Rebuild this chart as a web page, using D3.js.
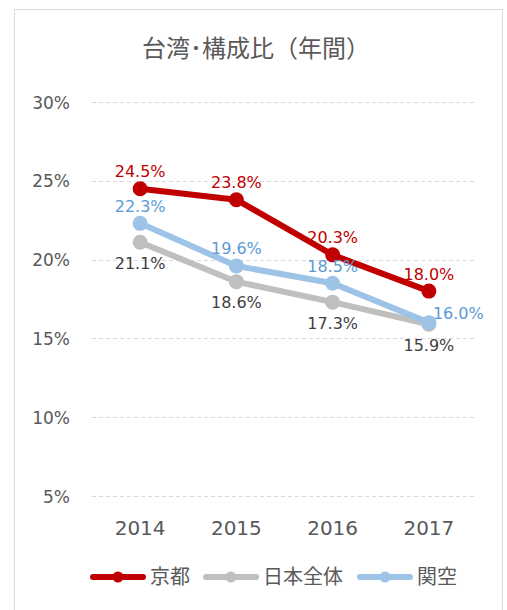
<!DOCTYPE html>
<html>
<head>
<meta charset="utf-8">
<script src="https://cdn.jsdelivr.net/npm/d3@7"></script>
<style>
  html, body { margin: 0; padding: 0; background: #fff; }
  svg { display: block; font-family: "DejaVu Sans", "Noto Sans CJK JP", sans-serif; }
</style>
</head>
<body>
<div id="chart"></div>
<script>
// data
const years = ["2014", "2015", "2016", "2017"];
const kyoto = [24.5, 23.8, 20.3, 18.0];
const japanAll = [21.1, 18.6, 17.3, 15.9];
const kanku = [22.3, 19.6, 18.5, 16.0];
const yTicks = [5, 10, 15, 20, 25, 30];
const seriesNames = ["京都", "日本全体", "関空"];
const title = "台湾･構成比（年間）";

const W = 507, H = 610;
const margin = { top: 102, right: 30, bottom: 114, left: 92 };
const w = W - margin.left - margin.right, h = H - margin.top - margin.bottom;

// style per series; label placement is about drawing, not data
const styles = [
  { values: kyoto, line: "#c00000", text: "#c00000", place: ["above", "above", "above", "above"] },
  { values: japanAll, line: "#bfbfbf", text: "#404040", place: ["below", "below", "below", "below"] },
  { values: kanku, line: "#9dc3e6", text: "#5b9bd5", place: ["above", "above", "above", "right"] }
];
const drawOrder = [1, 2, 0];

const svg = d3.select("#chart").append("svg")
  .attr("width", W).attr("height", H)
  .attr("viewBox", `0 0 ${W} ${H}`);

svg.append("rect")
  .attr("x", 14.5).attr("y", 9.5).attr("width", 488).attr("height", 620)
  .attr("fill", "#fff").attr("stroke", "#d9d9d9");

svg.append("text")
  .attr("x", 256).attr("y", 49)
  .attr("text-anchor", "middle").attr("dominant-baseline", "central")
  .attr("fill", "#595959").attr("font-size", 24)
  .text(title);

const g = svg.append("g").attr("transform", `translate(${margin.left},${margin.top})`);

const x = d3.scaleBand().domain(years).range([0, w]);
const y = d3.scaleLinear().domain([5, 30]).range([h, 0]);

// gridlines
g.selectAll("line.grid").data(yTicks).join("line").attr("class", "grid")
  .attr("x1", 0).attr("x2", w)
  .attr("y1", d => Math.round(y(d)) + 0.5).attr("y2", d => Math.round(y(d)) + 0.5)
  .attr("stroke", "#d9d9d9").attr("stroke-dasharray", "4,3");

// y axis labels
g.append("g")
  .attr("transform", "translate(-19,0)")
  .call(d3.axisLeft(y).tickValues(yTicks).tickSize(0).tickFormat(d => d + "%"))
  .call(s => s.attr("font-family", null).attr("font-size", null))
  .call(s => s.select(".domain").remove())
  .selectAll("text")
  .attr("font-size", 17).attr("fill", "#595959")
  .attr("dy", "0.36em");

// x axis labels
g.append("g")
  .attr("transform", `translate(0,${h + 24})`)
  .call(d3.axisBottom(x).tickSize(0))
  .call(s => s.attr("font-family", null).attr("font-size", null))
  .call(s => s.select(".domain").remove())
  .selectAll("text")
  .attr("font-size", 20).attr("fill", "#595959")
  .attr("dy", "0.6em");

const cx = d => x(d) + x.bandwidth() / 2;
const line = d3.line().x((d, i) => cx(years[i])).y(d => y(d));

drawOrder.forEach(k => {
  const s = styles[k];
  g.append("path").datum(s.values)
    .attr("d", line).attr("fill", "none")
    .attr("stroke", s.line).attr("stroke-width", 6)
    .attr("stroke-linejoin", "round").attr("stroke-linecap", "round");
  g.selectAll(null).data(s.values).join("circle")
    .attr("cx", (d, i) => cx(years[i])).attr("cy", d => y(d))
    .attr("r", 7.5).attr("fill", s.line);
});

styles.forEach(s => {
  g.selectAll(null).data(s.values).join("text")
    .attr("x", (d, i) => cx(years[i]) + (s.place[i] === "right" ? 4 : 0))
    .attr("y", (d, i) => y(d) + (s.place[i] === "above" ? -17 : s.place[i] === "below" ? 21 : -9))
    .attr("text-anchor", (d, i) => s.place[i] === "right" ? "start" : "middle")
    .attr("dominant-baseline", "central")
    .attr("font-size", 16).attr("fill", s.text)
    .text(d => d.toFixed(1) + "%");
});

// legend
const legendX = [90, 203, 357];
const leg = svg.append("g").attr("transform", "translate(0,577)");
styles.forEach((s, k) => {
  const lg = leg.append("g").attr("transform", `translate(${legendX[k]},0)`);
  lg.append("line").attr("x1", 3).attr("x2", 53).attr("y1", 0).attr("y2", 0)
    .attr("stroke", s.line).attr("stroke-width", 6).attr("stroke-linecap", "round");
  lg.append("circle").attr("cx", 28).attr("cy", 0).attr("r", 5.5).attr("fill", s.line);
  lg.append("text").attr("x", 60).attr("y", 0)
    .attr("dominant-baseline", "central")
    .attr("font-size", 20).attr("fill", "#595959")
    .text(seriesNames[k]);
});
</script>
</body>
</html>
